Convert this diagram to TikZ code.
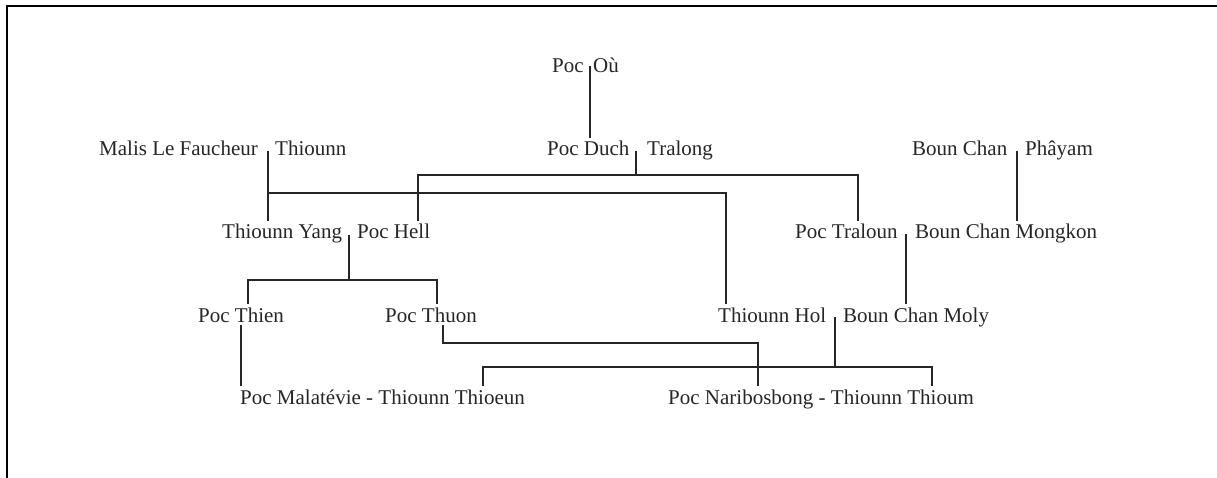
\documentclass[tikz,border=0pt]{standalone}
\usepackage{fontspec}
\setmainfont{Liberation Serif}
\begin{document}
\begin{tikzpicture}[x=1pt,y=-1pt,
  person/.style={anchor=base west, inner xsep=0pt, inner ysep=3pt, font=\fontsize{21}{24}\selectfont, text=black!85},
  link/.style={line width=1.6pt, draw=black!85},
  frame/.style={line width=2.5pt, draw=black}]
\useasboundingbox (0,0) rectangle (1217,478);
\fill[white] (0,0) rectangle (1217,478);
\draw[frame] (7,478) -- (7,6) -- (1217,6);

% row 1
\node[person] (poc) at (552,73) {Poc};
\node[person] (ou) at (593,73) {Où};
% row 2
\node[person] (malis) at (99,156) {Malis Le Faucheur};
\node[person] (thiounn) at (275,156) {Thiounn};
\node[person] (duch) at (547,156) {Poc Duch};
\node[person] (tralong) at (647,156) {Tralong};
\node[person] (bounchan) at (912,156) {Boun Chan};
\node[person] (phayam) at (1025,156) {Phâyam};
% row 3
\node[person] (yang) at (222,239) {Thiounn Yang};
\node[person] (hell) at (357,239) {Poc Hell};
\node[person] (traloun) at (795,239) {Poc Traloun};
\node[person] (mongkon) at (915,239) {Boun Chan Mongkon};
% row 4
\node[person] (thien) at (198,322) {Poc Thien};
\node[person] (thuon) at (385,322) {Poc Thuon};
\node[person] (hol) at (718,322) {Thiounn Hol};
\node[person] (moly) at (843,322) {Boun Chan Moly};
% row 5
\node[person] (mala) at (240,404) {Poc Malatévie - Thiounn Thioeun};
\node[person] (nari) at (668,404) {Poc Naribosbong - Thiounn Thioum};

% couple marks and junctions
\coordinate (m0) at (590,66);
\coordinate (m1) at (268,151);
\coordinate (m2) at (636,151);
\coordinate (m3) at (1017,151);
\coordinate (m4) at (349,235);
\coordinate (m5) at (906,234);
\coordinate (m6) at (835,317);

\coordinate (h1r) at (726,193);
\coordinate (h2) at (636,175);
\coordinate (h2l) at (418,175);
\coordinate (h2r) at (858,175);
\coordinate (h4) at (349,280);
\coordinate (h4l) at (248,280);
\coordinate (h4r) at (437,280);
\coordinate (d1) at (241,350);
\coordinate (h8) at (443,343);
\coordinate (h8r) at (758,343);
\coordinate (h6) at (835,367);
\coordinate (h6l) at (483,367);
\coordinate (h6r) at (932,367);

% Poc - Où
\draw[link] (m0) -- (m0 |- duch.north);
% Poc Duch - Tralong
\draw[link] (m2) -- (h2);
\draw[link] (hell.north -| h2l) -- (h2l) -- (h2r) -- (traloun.north -| h2r);
% Malis Le Faucheur - Thiounn
\draw[link] (m1) -- (m1 |- yang.north);
\draw[link] (m1 |- h1r) -- (h1r) -- (h1r |- hol.north);
% Boun Chan - Phayam
\draw[link] (m3) -- (m3 |- mongkon.north);
% Thiounn Yang - Poc Hell
\draw[link] (m4) -- (h4);
\draw[link] (thien.north -| h4l) -- (h4l) -- (h4r) -- (thuon.north -| h4r);
% Poc Traloun - Boun Chan Mongkon
\draw[link] (m5) -- (m5 |- moly.north);
% Poc Thien
\draw[link] (thien.south -| d1) -- (d1 |- mala.north);
% Poc Thuon
\draw[link] (thuon.south -| h8) -- (h8) -- (h8r) -- (h8r |- nari.north);
% Thiounn Hol - Boun Chan Moly
\draw[link] (m6) -- (h6);
\draw[link] (mala.north -| h6l) -- (h6l) -- (h6r) -- (nari.north -| h6r);
\end{tikzpicture}
\end{document}
